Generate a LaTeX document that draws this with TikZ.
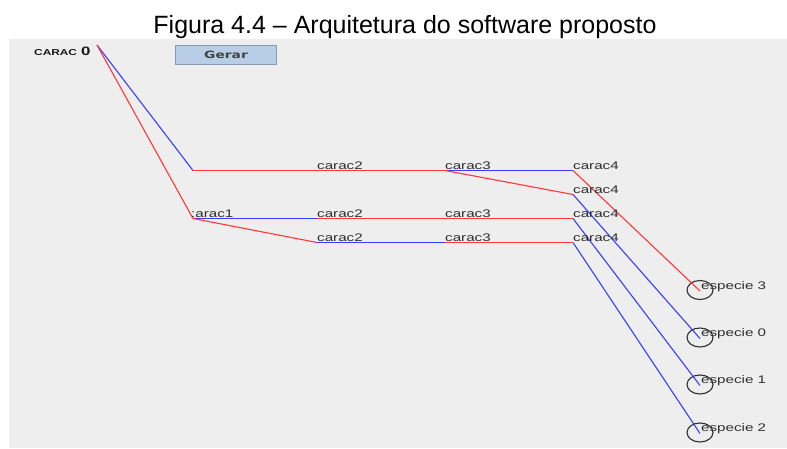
\documentclass[tikz,border=0pt]{standalone}
\usepackage{graphicx}
\usepackage{fontspec}
\setmainfont{Liberation Sans}
\newfontfamily\btnfont{DejaVu Sans}
\usetikzlibrary{shapes.geometric}

\definecolor{panelbg}{HTML}{EEEEEE}
\definecolor{edgered}{RGB}{255,55,55}
\definecolor{edgeblue}{RGB}{60,60,255}
\definecolor{btnfill}{HTML}{B8CEE6}
\definecolor{btnedge}{HTML}{8A9AAE}
\definecolor{txtgray}{HTML}{2E2E2E}

% the screen capture is stretched sideways; text follows suit
\newcommand{\wide}[1]{\scalebox{1.38}[1]{#1}}

\tikzset{
  lbl/.style={anchor=base west, inner sep=0pt, text=txtgray,
              font=\fontsize{11}{13}\selectfont},
  redge/.style={draw=edgered, line width=1.1pt},
  bedge/.style={draw=edgeblue, line width=1.1pt},
  leaf/.style={draw=txtgray, ellipse, line width=1.1pt, inner sep=0pt,
               minimum width=26pt, minimum height=19pt},
}

\begin{document}
\begin{tikzpicture}[x=1pt, y=-1pt]
  \useasboundingbox (0,0) rectangle (787,448);
  \fill[white] (0,0) rectangle (787,448);
  \fill[panelbg] (9,39) rectangle (787,448);

  % caption
  \node[anchor=base, inner sep=0pt, font=\fontsize{25}{28}\selectfont]
    (title) at (405,33.5) {Figura 4.4 -- Arquitetura do software proposto};

  % button
  \node[draw=btnedge, fill=btnfill, line width=1.2pt, minimum width=101pt,
        minimum height=19pt, inner sep=0pt, text=txtgray!90,
        font=\btnfont\bfseries\fontsize{10}{11}\selectfont]
    (gerar) at (226,55) {\wide{Gerar}};

  % tree points
  \coordinate (root) at (97,45);
  \coordinate (b1) at (193,170.5);
  \coordinate (b2) at (193,218.5);
  \coordinate (c2a) at (317,170.5);
  \coordinate (c2b) at (317,218.5);
  \coordinate (c2c) at (317,242.5);
  \coordinate (c3a) at (445,170.5);
  \coordinate (c3b) at (445,218.5);
  \coordinate (c3c) at (445,242.5);
  \coordinate (c4a) at (573,170.5);
  \coordinate (c4b) at (573,194.5);
  \coordinate (c4c) at (573,218.5);
  \coordinate (c4d) at (573,242.5);

  % leaves
  \node[leaf] (e3) at (700,290) {};
  \node[leaf] (e0) at (700,337.5) {};
  \node[leaf] (e1) at (700,384.5) {};
  \node[leaf] (e2) at (700,432.5) {};

  % edges
  \draw[bedge] (root) -- (b1);
  \draw[redge] (root) -- (b2);
  \draw[redge] (b1) -- (c2a);
  \draw[redge] (c2a) -- (c3a);
  \draw[bedge] (c3a) -- (c4a);
  \draw[redge] (c3a) -- (c4b);
  \draw[bedge] (b2) -- (c2b);
  \draw[redge] (c2b) -- (c3b);
  \draw[redge] (c3b) -- (c4c);
  \draw[redge] (b2) -- (c2c);
  \draw[bedge] (c2c) -- (c3c);
  \draw[redge] (c3c) -- (c4d);
  \draw[redge] (c4a) -- ([yshift=-1pt]e3.center);
  \draw[bedge] (c4b) -- ([yshift=-1pt]e0.center);
  \draw[bedge] (c4c) -- ([yshift=-1pt]e1.center);
  \draw[bedge] (c4d) -- ([yshift=-1pt]e2.center);

  % labels
  \node[anchor=base west, inner sep=0pt, text=black!90,
        font=\bfseries\fontsize{8.6}{10}\selectfont]
    (root-l) at (34,55.5)
    {\wide{CARAC}\hspace{4pt}\wide{\fontsize{12.2}{13}\selectfont 0}};
  \node[lbl] (b2-l) at (191,217) {\wide{:arac1}};
  \node[lbl] (c2a-l) at (317,169.5) {\wide{carac2}};
  \node[lbl] (c2b-l) at (317,217) {\wide{carac2}};
  \node[lbl] (c2c-l) at (317,241) {\wide{carac2}};
  \node[lbl] (c3a-l) at (445,169.5) {\wide{carac3}};
  \node[lbl] (c3b-l) at (445,217) {\wide{carac3}};
  \node[lbl] (c3c-l) at (445,241) {\wide{carac3}};
  \node[lbl] (c4a-l) at (573,169.5) {\wide{carac4}};
  \node[lbl] (c4b-l) at (573,193) {\wide{carac4}};
  \node[lbl] (c4c-l) at (573,217) {\wide{carac4}};
  \node[lbl] (c4d-l) at (573,241) {\wide{carac4}};
  \node[lbl] (e3-l) at (701,289) {\wide{especie 3}};
  \node[lbl] (e0-l) at (701,336.5) {\wide{especie 0}};
  \node[lbl] (e1-l) at (701,383.5) {\wide{especie 1}};
  \node[lbl] (e2-l) at (701,431.5) {\wide{especie 2}};
\end{tikzpicture}
\end{document}
